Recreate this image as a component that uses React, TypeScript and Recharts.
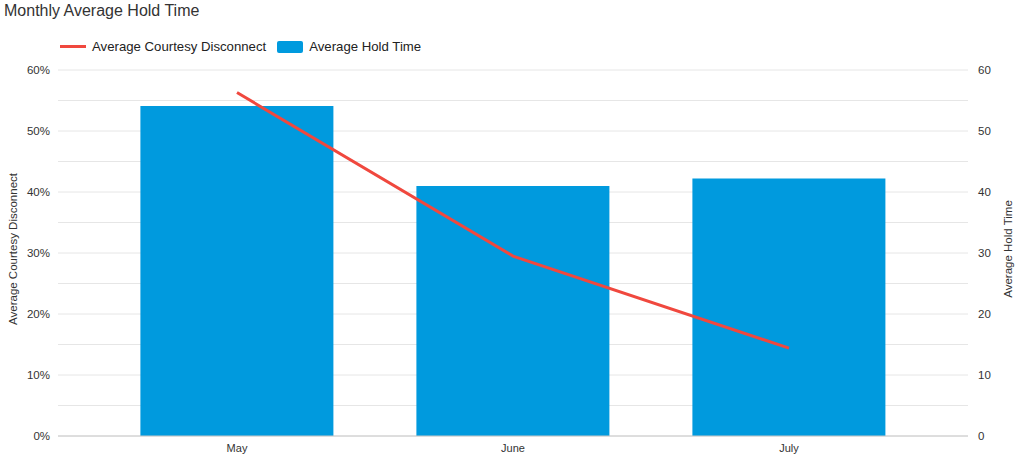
import React from 'react';
import { ComposedChart, Bar, Line, XAxis, YAxis, CartesianGrid, Legend, Label } from 'recharts';

// chart values
const months = ['May', 'June', 'July'];
const avgHoldTime = [54.1, 41.0, 42.2];
const avgCourtesyDisconnect = [0.563, 0.295, 0.144];

const leftTicks = [0, 0.05, 0.1, 0.15, 0.2, 0.25, 0.3, 0.35, 0.4, 0.45, 0.5, 0.55, 0.6];
const rightTicks = [0, 10, 20, 30, 40, 50, 60];

const BLUE = '#009ade';
const RED = '#f0483e';
const FONT = '"Liberation Sans", Arial, sans-serif';

const data = months.map((m, i) => ({
    month: m,
    hold: avgHoldTime[i],
    courtesy: avgCourtesyDisconnect[i],
}));

const legendItems = [
    { name: 'Average Courtesy Disconnect', color: RED, kind: 'line' },
    { name: 'Average Hold Time', color: BLUE, kind: 'rect' },
];

const ChartLegend = () => (
    <div style={{ display: 'flex', alignItems: 'center', fontFamily: FONT, fontSize: 13.2, color: '#222' }}>
        {legendItems.map(item => (
            <div key={item.name} style={{ display: 'flex', alignItems: 'center', marginRight: 11 }}>
                {item.kind === 'line' ? (
                    <span style={{ display: 'inline-block', width: 26, height: 3, background: item.color, marginRight: 6 }} />
                ) : (
                    <span style={{ display: 'inline-block', width: 26, height: 12, background: item.color, borderRadius: 2, marginRight: 6 }} />
                )}
                <span>{item.name}</span>
            </div>
        ))}
    </div>
);

// rotated axis title, placed from the axis viewBox
const AxisTitle = ({ viewBox, value, dx }: any) => {
    const x = viewBox.x + dx;
    const y = 249;
    return (
        <text x={x} y={y} transform={`rotate(-90, ${x}, ${y})`} textAnchor="middle" dominantBaseline="central"
            fill="#333" fontSize={11.5} fontFamily={FONT}>
            {value}
        </text>
    );
};

const pctLabel = (v: number) => {
    const p = Math.round(v * 100);
    return p % 10 === 0 ? `${p}%` : '';
};

export default function App() {
    return (
        <div style={{ position: 'absolute', left: 0, top: 0, width: 1024, height: 458, background: '#fff' }}>
            <div style={{ position: 'absolute', left: 4, top: 2, fontFamily: FONT, fontSize: 16, color: '#333' }}>
                Monthly Average Hold Time
            </div>
            <ComposedChart width={1024} height={458} data={data} margin={{ top: 70, right: 0, bottom: 0, left: 0 }}
                barCategoryGap="15%">
                <CartesianGrid yAxisId="left" vertical={false} stroke="#e6e6e6" />
                <XAxis dataKey="month" height={22} padding={{ left: 41, right: 41 }} tickLine={false}
                    axisLine={{ stroke: '#c8c8c8' }} tick={{ fill: '#333', fontSize: 11, fontFamily: FONT }} />
                <YAxis yAxisId="left" width={58} domain={[0, 0.6]} ticks={leftTicks} tickFormatter={pctLabel}
                    axisLine={false} tickLine={false} interval={0}
                    tick={{ fill: '#333', fontSize: 11.5, fontFamily: FONT }}>
                    <Label content={(p: any) => <AxisTitle {...p} value="Average Courtesy Disconnect" dx={13} />} />
                </YAxis>
                <YAxis yAxisId="right" orientation="right" width={56} domain={[0, 60]} ticks={rightTicks}
                    axisLine={false} tickLine={false} tickMargin={4} interval={0}
                    tick={{ fill: '#333', fontSize: 11.5, fontFamily: FONT }}>
                    <Label content={(p: any) => <AxisTitle {...p} value="Average Hold Time" dx={40} />} />
                </YAxis>
                <Legend layout="horizontal" verticalAlign="middle" align="center" content={<ChartLegend />}
                    wrapperStyle={{ top: 39, left: 60, width: 'auto' }} />
                <Bar yAxisId="right" dataKey="hold" name="Average Hold Time" fill={BLUE} isAnimationActive={false} />
                <Line yAxisId="left" dataKey="courtesy" name="Average Courtesy Disconnect" stroke={RED} strokeWidth={3}
                    dot={false} activeDot={false} isAnimationActive={false} />
            </ComposedChart>
        </div>
    );
}
